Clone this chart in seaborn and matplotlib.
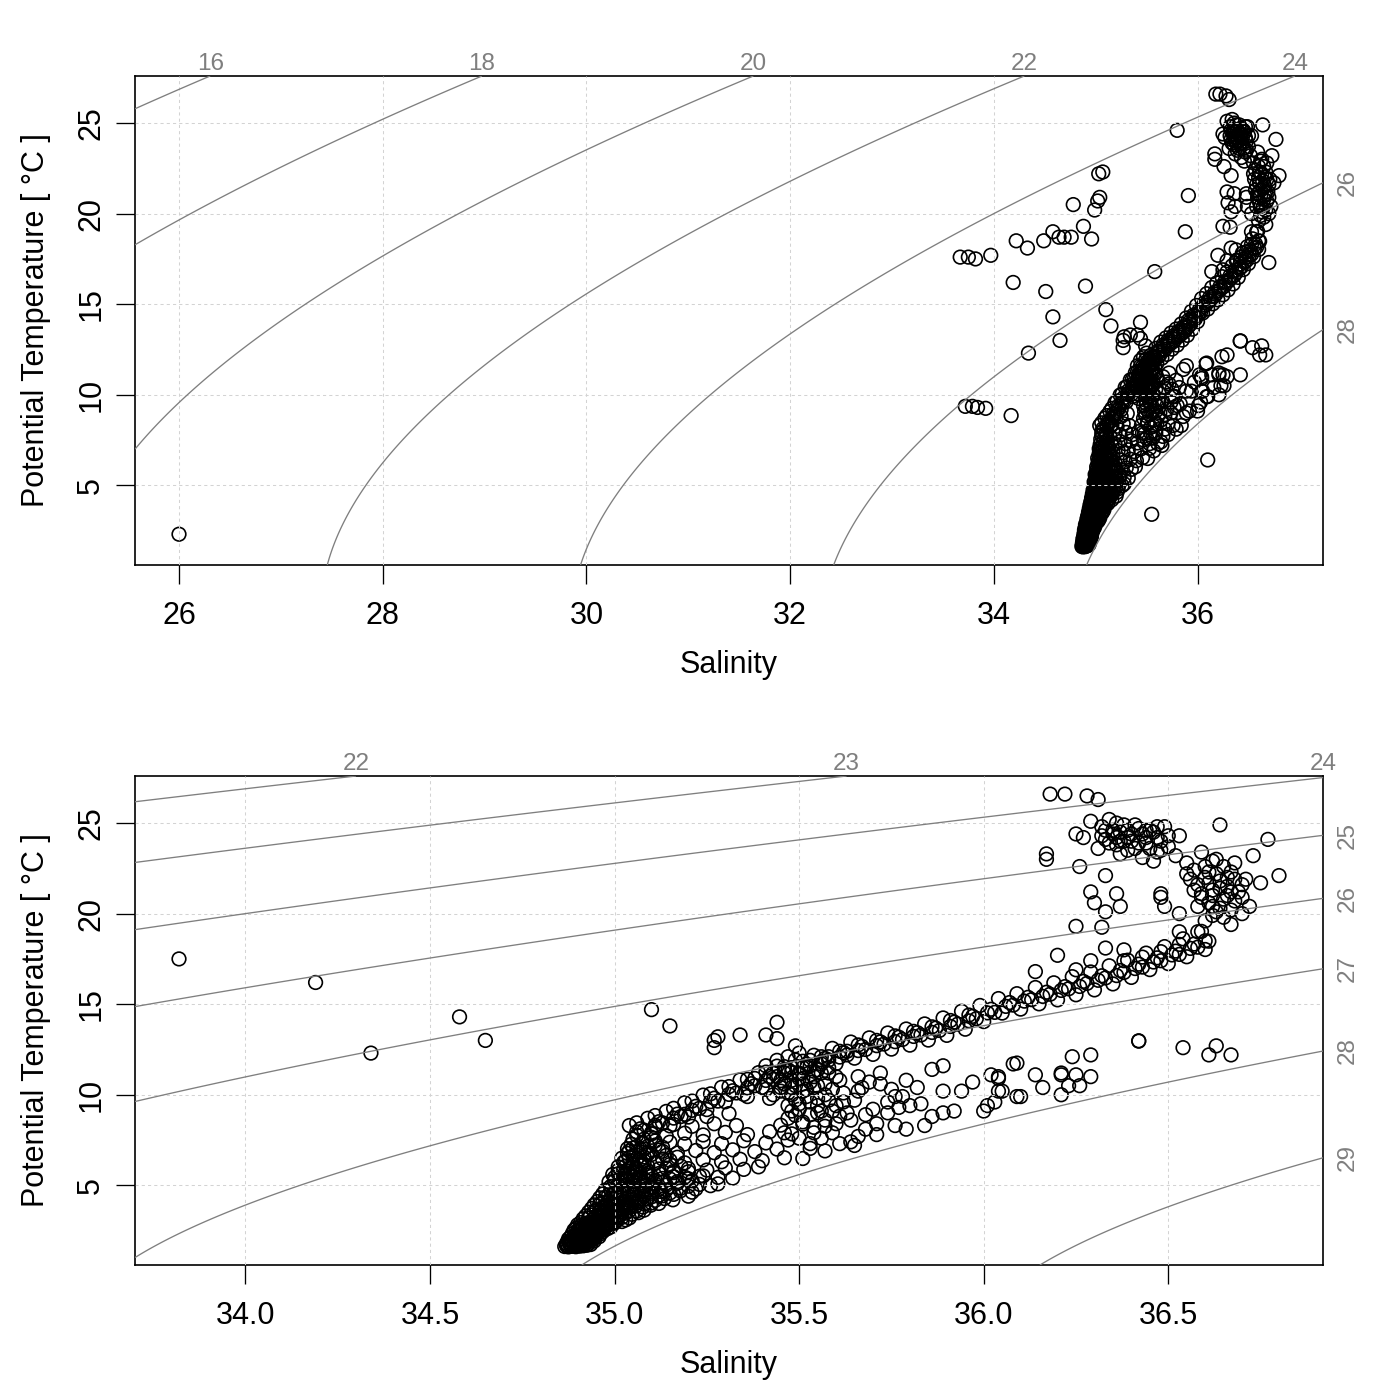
import numpy as np
import matplotlib
matplotlib.use("Agg")
import matplotlib.pyplot as plt
from matplotlib.ticker import FormatStrFormatter
import seaborn as sns

# (salinity, potential temperature), grouped by water mass
deep_water = [
    (34.865, 1.62), (34.875, 1.60), (34.885, 1.63), (34.895, 1.61), (34.905, 1.64), (34.915, 1.66), (34.925, 1.69), (34.935, 1.73),
    (34.87, 1.80), (34.88, 1.77), (34.89, 1.83), (34.90, 1.79), (34.91, 1.85), (34.92, 1.82), (34.93, 1.88), (34.945, 1.93),
    (34.875, 2.03), (34.885, 1.98), (34.895, 2.06), (34.905, 2.01), (34.915, 2.09), (34.925, 2.04), (34.935, 2.11), (34.945, 2.07), (34.958, 2.16),
    (34.885, 2.31), (34.895, 2.26), (34.905, 2.34), (34.915, 2.29), (34.925, 2.37), (34.935, 2.32), (34.945, 2.40), (34.955, 2.35), (34.968, 2.44),
    (34.895, 2.63), (34.905, 2.58), (34.915, 2.66), (34.925, 2.60), (34.935, 2.69), (34.945, 2.62), (34.955, 2.71), (34.967, 2.66), (34.978, 2.74), (34.99, 2.70),
    (34.908, 2.94), (34.92, 2.89), (34.932, 2.97), (34.944, 2.91), (34.956, 3.00), (34.968, 2.94), (34.98, 3.03), (34.993, 2.97), (35.006, 3.06), (35.02, 3.00), (35.03, 3.09),
    (34.922, 3.31), (34.935, 3.36), (34.948, 3.27), (34.961, 3.35), (34.974, 3.40), (34.987, 3.32), (35.00, 3.43), (35.015, 3.37), (35.03, 3.46), (35.047, 3.40), (35.065, 3.49),
    (34.938, 3.72), (34.952, 3.67), (34.966, 3.76), (34.98, 3.70), (34.994, 3.80), (35.008, 3.73), (35.023, 3.83), (35.04, 3.77), (35.058, 3.86), (35.077, 3.80), (35.098, 3.90),
    (34.953, 4.10), (34.968, 4.05), (34.983, 4.14), (34.998, 4.08), (35.013, 4.18), (35.03, 4.11), (35.048, 4.21), (35.067, 4.14), (35.088, 4.24), (35.11, 4.17), (35.135, 4.27), (35.158, 4.20),
    (34.968, 4.52), (34.984, 4.47), (35.00, 4.56), (35.017, 4.50), (35.035, 4.60), (35.055, 4.53), (35.076, 4.63), (35.10, 4.56), (35.125, 4.66), (35.15, 4.58), (35.178, 4.69), (35.21, 4.62),
    (34.87, 1.72), (34.89, 1.70), (34.91, 1.75), (34.93, 1.78),
    (34.88, 1.94), (34.90, 1.92), (34.92, 1.96), (34.94, 2.00),
    (34.89, 2.18), (34.91, 2.16), (34.93, 2.20), (34.95, 2.24),
    (34.90, 2.46), (34.92, 2.44), (34.94, 2.48), (34.96, 2.52),
    (34.91, 2.78), (34.93, 2.76), (34.95, 2.80), (34.97, 2.84), (34.99, 2.86),
]

deep_core = [
    (34.87, 1.66), (34.88, 1.68), (34.89, 1.67), (34.90, 1.70), (34.91, 1.71), (34.92, 1.74),
    (34.875, 1.88), (34.885, 1.90), (34.895, 1.87), (34.905, 1.91), (34.915, 1.93), (34.925, 1.95), (34.935, 1.97),
    (34.88, 2.12), (34.89, 2.14), (34.90, 2.10), (34.91, 2.13), (34.92, 2.15), (34.93, 2.18), (34.94, 2.21), (34.95, 2.28),
    (34.89, 2.52), (34.90, 2.50), (34.91, 2.55), (34.92, 2.53), (34.93, 2.57), (34.94, 2.55), (34.95, 2.60), (34.96, 2.62), (34.97, 2.58),
    (34.90, 2.82), (34.91, 2.80), (34.92, 2.84), (34.94, 2.86), (34.96, 2.88), (34.98, 2.90), (35.00, 2.92),
    (34.915, 3.15), (34.93, 3.18), (34.945, 3.14), (34.96, 3.19), (34.975, 3.16), (34.99, 3.21), (35.005, 3.17), (35.02, 3.23), (35.04, 3.20),
    (34.93, 3.52), (34.945, 3.55), (34.96, 3.50), (34.975, 3.57), (34.99, 3.53), (35.005, 3.59), (35.02, 3.55), (35.04, 3.61), (35.06, 3.58), (35.08, 3.63),
    (34.945, 3.92), (34.96, 3.95), (34.975, 3.90), (34.99, 3.97), (35.005, 3.93), (35.02, 3.99), (35.04, 3.95), (35.06, 4.01), (35.08, 3.97), (35.10, 4.03), (35.12, 4.00),
    (34.96, 4.31), (34.975, 4.34), (34.99, 4.29), (35.005, 4.36), (35.02, 4.32), (35.04, 4.38), (35.06, 4.34), (35.08, 4.40), (35.10, 4.36), (35.13, 4.42),
    (34.975, 4.74), (34.99, 4.78), (35.005, 4.72), (35.02, 4.80), (35.04, 4.76), (35.06, 4.82), (35.08, 4.77), (35.10, 4.84), (35.12, 4.79),
    (34.985, 5.19), (35.00, 5.23), (35.015, 5.17), (35.03, 5.25), (35.05, 5.21), (35.07, 5.27), (35.09, 5.22), (35.11, 5.28),
    (34.995, 5.60), (35.01, 5.64), (35.03, 5.58), (35.05, 5.66), (35.07, 5.62), (35.09, 5.68),
    (35.01, 6.02), (35.03, 6.06), (35.05, 6.00), (35.07, 6.08), (35.09, 6.04),
    (35.02, 6.50), (35.04, 6.54), (35.06, 6.48), (35.08, 6.56),
    (35.035, 7.02), (35.05, 7.06), (35.07, 7.00),
]

deep_fill = [
    (35.12, 4.45), (35.14, 4.75), (35.16, 4.50), (35.18, 4.85), (35.20, 4.40), (35.22, 4.80), (35.13, 5.15),
    (35.15, 5.35), (35.17, 5.20), (35.19, 5.45), (35.21, 5.25), (35.23, 5.50), (35.12, 5.65), (35.14, 5.95),
    (35.16, 5.70), (35.18, 6.05), (35.20, 5.75), (35.11, 6.20), (35.13, 6.45), (35.15, 6.15), (35.17, 6.55),
    (35.10, 6.70), (35.12, 6.95), (35.14, 6.65), (35.09, 7.15), (35.11, 7.45), (35.13, 7.10), (35.08, 7.55),
    (35.10, 7.65), (35.02, 4.62), (35.04, 4.90), (35.06, 4.68), (35.08, 5.12), (35.10, 4.92), (35.03, 5.33),
    (35.05, 5.52), (35.07, 5.30), (35.09, 5.55), (35.02, 5.70), (35.04, 5.95), (35.06, 5.72), (35.08, 6.15),
    (35.03, 6.35), (35.05, 6.62), (35.07, 6.40), (35.09, 6.80), (35.04, 6.90), (35.06, 7.15), (35.08, 7.00),
    (34.93, 2.30), (34.95, 2.45), (34.96, 2.30), (34.97, 2.55), (34.98, 2.60), (34.94, 2.65), (34.96, 2.95),
    (34.98, 2.80), (35.00, 3.00), (35.01, 3.25), (34.95, 3.05), (34.97, 3.25), (34.99, 3.45), (35.02, 3.65),
    (35.04, 3.85), (34.96, 3.60), (34.98, 3.85), (35.00, 4.00), (35.03, 4.05), (35.05, 4.45), (35.07, 4.25),
]

lower_cloud = [
    (34.99, 4.94), (35.01, 5.04), (35.03, 4.97), (35.05, 5.07), (35.08, 4.99), (35.11, 5.09), (35.14, 5.01), (35.17, 5.11), (35.20, 4.95), (35.23, 5.05), (35.26, 4.98), (35.28, 5.08),
    (35.00, 5.43), (35.02, 5.37), (35.045, 5.47), (35.07, 5.40), (35.10, 5.50), (35.13, 5.38), (35.16, 5.48), (35.20, 5.36), (35.24, 5.52), (35.28, 5.44), (35.32, 5.40),
    (35.01, 5.82), (35.035, 5.76), (35.06, 5.86), (35.09, 5.80), (35.12, 5.90), (35.16, 5.78), (35.20, 5.92), (35.25, 5.84), (35.30, 5.96), (35.35, 5.88), (35.39, 6.02),
    (35.025, 6.28), (35.05, 6.22), (35.08, 6.34), (35.11, 6.26), (35.15, 6.38), (35.19, 6.24), (35.24, 6.40), (35.29, 6.30), (35.34, 6.44), (35.40, 6.36), (35.46, 6.52), (35.51, 6.48),
    (35.035, 6.76), (35.06, 6.84), (35.09, 6.72), (35.13, 6.88), (35.17, 6.78), (35.22, 6.92), (35.27, 6.80), (35.32, 6.96), (35.38, 6.86), (35.44, 7.00), (35.53, 7.04), (35.57, 6.90),
    (35.045, 7.26), (35.075, 7.34), (35.11, 7.22), (35.15, 7.38), (35.19, 7.28), (35.24, 7.42), (35.29, 7.30), (35.35, 7.46), (35.41, 7.34), (35.47, 7.50), (35.61, 7.30), (35.64, 7.40), (35.65, 7.20),
    (35.06, 7.76), (35.10, 7.84), (35.14, 7.72), (35.19, 7.88), (35.24, 7.78), (35.30, 7.92), (35.36, 7.80), (35.42, 7.96), (35.48, 7.84), (35.54, 7.90), (35.71, 7.80),
    (35.11, 8.22), (35.16, 8.36), (35.21, 8.26), (35.27, 8.40), (35.33, 8.30), (35.45, 8.32), (35.51, 8.38), (35.57, 8.26), (35.76, 8.30), (35.79, 8.10), (35.84, 8.30),
    (35.19, 8.92), (35.25, 8.80), (35.31, 8.96), (35.49, 8.86), (35.55, 9.00), (35.61, 8.82),
]

mid_scatter = [
    (35.42, 9.8), (35.48, 10.0), (35.50, 9.5), (35.52, 10.3), (35.55, 9.8), (35.57, 10.6),
    (35.60, 9.4), (35.62, 10.1), (35.65, 9.7), (35.67, 10.4), (35.70, 9.2), (35.46, 10.6), (35.50, 10.9), (35.54, 11.0),
    (35.58, 11.2), (35.47, 8.7), (35.53, 8.9), (35.59, 9.1), (35.64, 8.6), (35.68, 8.9), (35.72, 10.6),
    (35.74, 9.6), (35.79, 10.8), (35.82, 10.4), (35.86, 11.4), (35.89, 11.6), (35.89, 10.2), (35.92, 9.1), (35.89, 9.0),
    (35.94, 10.2), (35.97, 10.7), (36.02, 11.1), (36.04, 10.9), (36.01, 9.4), (36.00, 9.1), (36.05, 10.2), (36.09, 9.9),
    (36.08, 11.7), (36.09, 11.75), (35.76, 9.9), (35.83, 9.5), (35.86, 8.8), (35.77, 9.3), (35.66, 11.0), (35.61, 10.8),
    (36.14, 11.1), (36.16, 10.4), (36.21, 11.1), (36.21, 11.2), (36.25, 11.1), (36.29, 11.0), (36.21, 10.0), (36.26, 10.5),
    (36.23, 10.5), (36.10, 9.9), (36.04, 11.0), (36.04, 10.2), (36.03, 9.6), (36.24, 12.1), (36.29, 12.2),
    (36.42, 12.96), (36.42, 12.98), (36.54, 12.6), (36.61, 12.2), (36.63, 12.7), (36.67, 12.2),
    (35.41, 11.6), (35.44, 11.9), (35.47, 12.1), (35.50, 12.3), (35.45, 10.2), (35.48, 10.4), (35.51, 10.6),
    (35.54, 10.4), (35.57, 10.0), (35.49, 9.7), (35.52, 9.9), (35.55, 9.4), (35.58, 9.7), (35.48, 9.1),
    (35.51, 8.5), (35.54, 8.2), (35.57, 8.6), (35.46, 7.9), (35.50, 7.6), (35.53, 7.3), (35.56, 7.6),
    (35.59, 7.9), (35.60, 8.4), (35.63, 9.0), (35.62, 9.6), (35.66, 10.2), (35.69, 10.7), (35.72, 11.2),
    (35.75, 10.3), (35.78, 9.9), (35.80, 9.4), (35.74, 9.0), (35.71, 8.4), (35.68, 8.1), (35.66, 7.7),
    (35.43, 10.0), (35.45, 10.4), (35.47, 10.1), (35.49, 10.5), (35.51, 10.2), (35.53, 10.7), (35.55, 10.5),
    (35.44, 11.0), (35.46, 11.4), (35.48, 10.8), (35.50, 11.2), (35.52, 11.5), (35.54, 11.3), (35.56, 11.7),
    (35.58, 11.5), (35.47, 9.4), (35.50, 9.2), (35.53, 9.6), (35.56, 9.1), (35.59, 10.3), (35.60, 11.0),
]

thermocline = [
    (35.05, 7.55), (35.06, 7.95), (35.04, 8.30), (35.10, 7.90), (35.11, 8.32), (35.09, 8.70),
    (35.15, 8.28), (35.16, 8.71), (35.14, 9.08), (35.20, 8.77), (35.21, 9.14), (35.19, 9.56),
    (35.25, 9.18), (35.26, 9.62), (35.24, 9.98), (35.30, 9.61), (35.31, 10.02), (35.29, 10.41),
    (35.35, 10.02), (35.36, 10.38), (35.34, 10.82), (35.40, 10.41), (35.41, 10.79), (35.39, 11.22),
    (35.45, 10.78), (35.46, 11.21), (35.44, 11.58), (35.50, 11.12), (35.51, 11.49), (35.49, 11.92),
    (35.55, 11.38), (35.56, 11.82), (35.54, 12.18), (35.60, 11.72), (35.61, 12.08), (35.59, 12.56),
    (35.65, 12.02), (35.66, 12.44), (35.64, 12.91), (35.70, 12.23), (35.71, 12.71), (35.69, 13.14),
    (35.75, 12.52), (35.76, 12.93), (35.74, 13.41), (35.80, 12.74), (35.81, 13.22), (35.79, 13.63),
    (35.85, 13.02), (35.86, 13.44), (35.84, 13.91), (35.90, 13.28), (35.91, 13.77), (35.89, 14.24),
    (35.95, 13.62), (35.96, 14.08), (35.94, 14.61), (36.00, 14.04), (36.01, 14.52), (35.99, 14.93),
    (36.05, 14.51), (36.06, 14.88), (36.04, 15.31), (36.10, 14.73), (36.11, 15.17), (36.09, 15.58),
    (36.15, 15.02), (36.16, 15.43), (36.14, 15.92), (36.20, 15.24), (36.21, 15.76), (36.19, 16.18),
    (36.25, 15.52), (36.26, 15.98), (36.24, 16.52), (36.30, 15.79), (36.31, 16.32), (36.29, 16.78),
    (36.35, 16.12), (36.36, 16.58), (36.34, 17.12), (36.40, 16.48), (36.41, 16.97), (36.39, 17.43),
    (36.45, 16.91), (36.46, 17.33), (36.44, 17.82), (36.50, 17.24), (36.51, 17.72), (36.49, 18.18),
    (36.55, 17.62), (36.56, 18.08), (36.54, 18.61), (36.60, 18.02), (36.61, 18.48), (36.59, 19.02),
    (35.07, 8.12), (35.12, 8.51), (35.17, 8.93), (35.22, 9.36), (35.27, 9.81), (35.32, 10.22),
    (35.37, 10.61), (35.42, 11.01), (35.47, 11.38), (35.52, 11.69), (35.57, 12.01), (35.62, 12.33),
    (35.67, 12.67), (35.72, 12.92), (35.77, 13.18), (35.82, 13.43), (35.87, 13.68), (35.92, 14.01),
    (35.97, 14.33), (36.02, 14.72), (36.07, 15.09), (36.12, 15.38), (36.17, 15.66), (36.22, 15.97),
    (36.27, 16.26), (36.32, 16.57), (36.37, 16.86), (36.42, 17.21), (36.47, 17.56), (36.52, 17.93),
    (36.57, 18.32), (35.38, 10.9), (35.43, 11.2), (35.48, 11.5), (35.53, 11.9), (35.58, 12.1),
    (35.63, 12.4), (35.36, 9.9), (35.41, 10.3), (35.46, 10.6), (35.51, 10.9), (35.56, 11.2),
    (35.08, 8.05), (35.13, 8.45), (35.18, 8.80), (35.23, 9.25), (35.28, 9.65), (35.33, 10.10),
    (35.38, 10.50), (35.43, 10.85), (35.48, 11.25), (35.53, 11.60), (35.58, 11.92), (35.63, 12.20),
    (35.68, 12.50), (35.73, 12.80), (35.78, 13.05), (35.83, 13.30), (35.88, 13.55), (35.93, 13.90),
    (35.98, 14.20), (36.03, 14.55), (36.08, 14.95), (36.13, 15.25), (36.18, 15.55), (36.23, 15.85),
    (36.28, 16.15), (36.33, 16.45), (36.38, 16.75), (36.43, 17.05), (36.48, 17.40), (36.53, 17.75),
    (36.58, 18.15), (35.06, 8.45), (35.11, 8.85), (35.16, 9.25), (35.21, 9.65), (35.26, 10.05),
    (35.31, 10.45), (35.36, 10.85), (35.41, 11.25), (35.46, 11.55), (35.51, 11.85), (35.56, 12.10),
    (35.61, 12.40), (35.66, 12.75), (35.71, 13.00), (35.76, 13.25), (35.81, 13.50), (35.86, 13.75),
    (35.91, 14.10), (35.96, 14.40),
    (35.10, 14.7), (35.15, 13.8), (35.27, 13.0), (35.28, 13.2), (35.27, 12.6), (35.34, 13.3),
    (35.41, 13.3), (35.44, 14.0), (35.44, 13.1), (35.49, 12.7),
]

surface_hook = [
    (36.18, 26.6), (36.22, 26.6), (36.28, 26.5), (36.31, 26.3), (36.29, 25.1), (36.34, 25.2),
    (36.32, 24.8), (36.35, 24.6), (36.38, 24.9), (36.40, 24.4), (36.42, 24.7), (36.44, 24.2), (36.46, 24.5),
    (36.48, 24.0), (36.50, 24.3), (36.33, 24.1), (36.36, 23.8), (36.39, 24.2), (36.41, 23.6), (36.44, 23.9),
    (36.47, 23.4), (36.50, 23.7), (36.52, 23.2), (36.37, 23.3), (36.43, 23.1), (36.46, 22.9), (36.35, 24.4),
    (36.38, 24.0), (36.45, 24.6), (36.49, 24.8), (36.31, 23.6), (36.40, 24.0), (36.43, 24.4), (36.37, 24.5),
    (36.33, 24.6), (36.36, 24.2), (36.39, 24.6), (36.41, 24.9), (36.44, 24.6), (36.47, 24.2), (36.34, 23.9),
    (36.37, 24.0), (36.42, 23.9), (36.45, 23.6), (36.48, 23.5), (36.39, 23.5), (36.32, 24.3), (36.36, 25.0),
    (36.47, 24.8),
    (36.25, 24.4), (36.27, 24.2), (36.17, 23.3), (36.17, 23.0), (36.26, 22.6), (36.33, 22.1),
    (36.29, 21.2), (36.30, 20.6), (36.36, 21.1), (36.37, 20.4), (36.33, 20.1), (36.25, 19.3), (36.32, 19.25), (36.20, 17.7),
    (36.64, 24.9), (36.77, 24.1), (36.73, 23.2), (36.80, 22.1), (36.75, 21.7), (36.53, 24.3), (36.67, 22.3),
    (36.48, 21.1), (36.48, 20.9), (36.49, 20.4), (36.53, 20.0), (36.67, 19.4), (36.70, 20.0), (36.72, 20.4),
    (36.55, 22.8), (36.57, 22.4), (36.60, 22.0), (36.58, 21.6), (36.62, 21.3), (36.64, 21.8), (36.66, 21.0),
    (36.61, 20.6), (36.64, 20.3), (36.68, 20.7), (36.59, 21.1), (36.56, 21.9), (36.60, 22.6), (36.63, 22.2),
    (36.66, 21.5), (36.69, 21.2), (36.62, 19.9), (36.58, 20.4), (36.70, 21.6), (36.55, 22.2), (36.68, 22.8),
    (36.71, 21.9), (36.65, 19.8), (36.60, 19.6), (36.63, 23.0), (36.59, 23.4), (36.65, 20.8), (36.61, 21.7),
    (36.67, 20.2), (36.62, 22.9), (36.62, 21.0), (36.64, 21.4), (36.66, 22.0), (36.61, 22.3), (36.65, 22.6),
    (36.68, 21.9), (36.63, 20.1), (36.67, 21.2), (36.70, 20.9), (36.59, 20.9), (36.57, 21.3), (36.62, 20.4),
    (36.53, 19.0), (36.58, 19.0), (36.60, 18.5), (36.53, 18.3), (36.48, 17.9), (36.43, 17.6), (36.38, 17.4),
    (36.33, 18.1), (36.38, 18.0), (36.29, 17.4), (36.25, 16.9), (36.14, 16.8),
]

fresh_outliers = [
    (33.82, 17.5), (34.19, 16.2), (34.34, 12.3), (34.58, 14.3), (34.65, 13.0),
]

# stations that appear only in the full-section panel (top)
extra_stations = [
    (26.00, 2.3), (33.67, 17.6), (33.75, 17.6), (33.97, 17.7), (34.22, 18.5), (34.33, 18.1),
    (34.49, 18.5), (34.58, 19.0), (34.64, 18.7), (34.69, 18.7), (34.76, 18.7), (34.88, 19.3),
    (34.96, 18.6), (34.78, 20.5), (34.99, 20.2), (35.02, 20.7), (35.04, 20.9), (35.03, 22.2),
    (35.07, 22.3), (34.51, 15.7), (34.90, 16.0), (35.80, 24.6), (35.91, 21.0), (35.88, 19.0),
    (35.58, 16.8), (36.70, 17.3), (33.72, 9.36), (33.79, 9.36), (33.84, 9.3), (33.92, 9.25),
    (34.17, 8.85), (35.55, 3.4), (36.10, 6.4), (36.42, 11.1),
]

levels_full = [16, 18, 20, 22, 24, 26, 28]
levels_zoom = [22, 23, 24, 25, 26, 27, 28, 29]
ticks_full = [26, 28, 30, 32, 34, 36]
ticks_zoom = [34.0, 34.5, 35.0, 35.5, 36.0, 36.5]
ticks_temp = [5, 10, 15, 20, 25]

GREY = "#7f7f7f"


def sigma_theta(S, T):
    # UNESCO 1980 equation of state at the surface, minus 1000
    rw = (999.842594 + 6.793952e-2 * T - 9.095290e-3 * T**2 + 1.001685e-4 * T**3
          - 1.120083e-6 * T**4 + 6.536332e-9 * T**5)
    A = 8.24493e-1 - 4.0899e-3 * T + 7.6438e-5 * T**2 - 8.2467e-7 * T**3 + 5.3875e-9 * T**4
    B = -5.72466e-3 + 1.0227e-4 * T - 1.6546e-6 * T**2
    return rw + A * S + B * S**1.5 + 4.8314e-4 * S**2 - 1000.0


sns.set_style("ticks")
plt.rcParams["font.family"] = ["Liberation Sans", "DejaVu Sans"]
plt.rcParams["axes.linewidth"] = 1.2
plt.rcParams["axes.labelcolor"] = "black"
plt.rcParams["text.color"] = "black"


def ts_panel(ax, pts, levels, xticks, fmt):
    sal = np.array([p[0] for p in pts])
    temp = np.array([p[1] for p in pts])
    sr = sal.max() - sal.min()
    tr = temp.max() - temp.min()
    x0, x1 = sal.min() - 0.04 * sr, sal.max() + 0.04 * sr
    y0, y1 = temp.min() - 0.04 * tr, temp.max() + 0.04 * tr

    sns.scatterplot(x=sal, y=temp, ax=ax, s=96, facecolors="none",
                    edgecolors="black", linewidth=1.2, zorder=1)

    SS, TT = np.meshgrid(np.linspace(x0, x1, 400), np.linspace(y0, y1, 400))
    ax.contour(SS, TT, sigma_theta(SS, TT), levels=levels, colors=GREY,
               linewidths=0.95, zorder=3)

    # contour labels on the top or right margin, where each line leaves the box
    s_edge = np.linspace(x0, x1, 3000)
    sig_top = sigma_theta(s_edge, y1)
    t_edge = np.linspace(y0, y1, 3000)
    sig_right = sigma_theta(x1, t_edge)
    for lev in levels:
        if sig_top.min() <= lev <= sig_top.max() + 0.15:
            s_at = min(np.interp(lev, sig_top, s_edge), x1)
            ax.annotate(f"{lev:g}", (s_at, y1), xytext=(0, 4.5), textcoords="offset points",
                        ha="center", va="baseline", color=GREY, fontsize=17.5,
                        annotation_clip=False)
        elif sig_right.min() <= lev <= sig_right.max():
            t_at = np.interp(lev, sig_right[::-1], t_edge[::-1])
            ax.annotate(f"{lev:g}", (x1, t_at), xytext=(10, 0), textcoords="offset points",
                        ha="left", va="center", rotation=90, color=GREY, fontsize=17.5,
                        annotation_clip=False)

    ax.set_xlim(x0, x1)
    ax.set_ylim(y0, y1)
    ax.set_xticks(xticks)
    ax.set_yticks(ticks_temp)
    ax.xaxis.set_major_formatter(FormatStrFormatter(fmt))
    ax.set_axisbelow(False)
    ax.grid(True, color="#d3d3d3", linestyle=(0, (3, 3)), linewidth=0.75)
    for sp in ax.spines.values():
        sp.set_visible(True)
        sp.set_color("black")
        sp.set_linewidth(1.2)
    ax.tick_params(axis="both", direction="out", length=13.7, width=0.95,
                   labelsize=22, colors="black")
    ax.tick_params(axis="x", pad=12)
    ax.tick_params(axis="y", pad=7)
    for lab in ax.get_yticklabels():
        lab.set_rotation(90)
        lab.set_va("center")
    ax.set_xlabel("Salinity", fontsize=22, labelpad=14, color="black")
    ax.set_ylabel("Potential Temperature [ °C ]", fontsize=22, labelpad=18, color="black")


section = (deep_water + deep_core + deep_fill + lower_cloud + mid_scatter + thermocline
           + surface_hook + fresh_outliers)
full_section = section + extra_stations

fig = plt.figure(figsize=(14, 14), dpi=100)
ax_top = fig.add_axes([135 / 1400, 835 / 1400, 1188 / 1400, 489 / 1400])
ax_bot = fig.add_axes([135 / 1400, 135 / 1400, 1188 / 1400, 489 / 1400])

ts_panel(ax_top, full_section, levels_full, ticks_full, "%g")
ts_panel(ax_bot, section, levels_zoom, ticks_zoom, "%.1f")

fig.savefig("out.png", dpi=100, facecolor="white")
